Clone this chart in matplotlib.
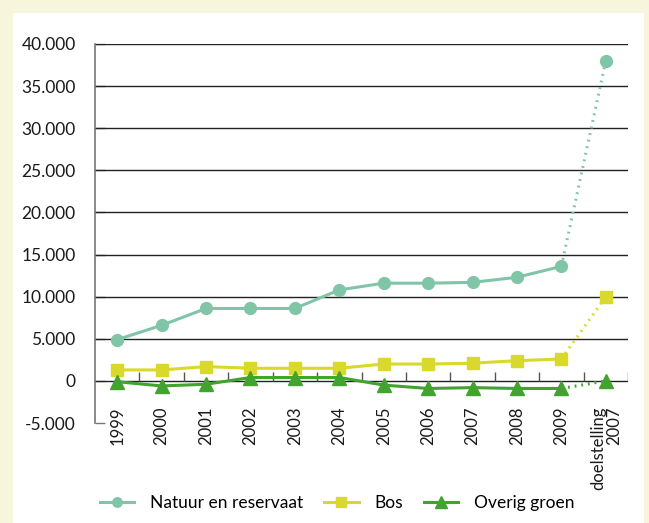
import matplotlib.pyplot as plt
import numpy as np
from matplotlib.patches import Rectangle

categories = ["1999", "2000", "2001", "2002", "2003", "2004", "2005",
              "2006", "2007", "2008", "2009", "doelstelling\n2007"]
natuur = [4900, 6600, 8600, 8600, 8600, 10800, 11600, 11600, 11700, 12300, 13600, 38000]
bos = [1300, 1300, 1700, 1500, 1500, 1500, 2000, 2000, 2100, 2400, 2600, 10000]
overig = [-100, -600, -400, 400, 400, 400, -500, -900, -800, -900, -900, 0]
y_ticks = [-5000, 0, 5000, 10000, 15000, 20000, 25000, 30000, 35000, 40000]
y_labels = ["-5.000", "0", "5.000", "10.000", "15.000", "20.000",
            "25.000", "30.000", "35.000", "40.000"]

plt.rcParams['font.family'] = ['Lato', 'DejaVu Sans']

fig = plt.figure(figsize=(6.49, 5.23), dpi=100)
fig.patch.set_facecolor('#f7f6dc')
fig.patches.append(Rectangle((13 / 649, 0), (644 - 13) / 649, (523 - 13) / 523,
                             transform=fig.transFigure, facecolor='white',
                             edgecolor='none', zorder=-5))

ax = fig.add_axes([95 / 649, 100 / 523, 533 / 649, 379 / 523])
ax.set_facecolor('none')
ax.set_zorder(2)

x = np.arange(len(categories))
series = [
    (natuur, '#80c5a7', 'o', 8.5, "Natuur en reservaat"),
    (bos, '#d8d92b', 's', 8.5, "Bos"),
    (overig, '#42a42f', '^', 10, "Overig groen"),
]
handles = []
for vals, color, marker, ms, label in series:
    ax.plot(x[:-1], vals[:-1], color=color, lw=2.2, marker=marker, ms=ms,
            mec=color, zorder=4)
    ax.plot(x[-2:], vals[-2:], color=color, lw=2.2, ls=(0, (0.6, 1.6)),
            marker=None, zorder=4)
    ax.plot(x[-1:], vals[-1:], color=color, ls='none', marker=marker, ms=ms,
            mec=color, zorder=5)
    handles.append(plt.Line2D([], [], color=color, lw=2.2, marker=marker,
                              ms=ms * 0.8, mec=color, label=label))

ax.set_xlim(-0.5, len(categories) - 0.5)
ax.set_ylim(-5000, 40000)

# horizontal gridlines
for yv in y_ticks[1:]:
    ax.axhline(yv, color='#222222', lw=1.0, zorder=2)
# category boundary ticks on the zero line
ax.vlines(np.arange(len(categories)) + 0.5, 0, 1000, color='#555555', lw=1.0, zorder=2)

ax.set_yticks(y_ticks)
ax.set_yticklabels(y_labels)
ax.tick_params(axis='y', direction='in', length=7, width=1, color='#777777',
               labelsize=12.5, pad=14, labelcolor='#1a1a1a')
ax.set_xticks(x)
ax.set_xticklabels(categories, rotation=90, va='top', ha='center',
                   linespacing=1.0, multialignment='right')
ax.tick_params(axis='x', length=0, labelsize=12, pad=-12, labelcolor='#1a1a1a')

for s in ['top', 'right', 'bottom']:
    ax.spines[s].set_visible(False)
ax.spines['left'].set_color('#777777')
ax.spines['left'].set_linewidth(1.2)

fig.legend(handles=handles, loc='center', bbox_to_anchor=(337 / 649, 1 - 503 / 523),
           ncol=3, frameon=False, fontsize=12.5, handlelength=2.0,
           columnspacing=1.2, handletextpad=0.9)

fig.savefig('out.png', dpi=100, facecolor=fig.get_facecolor())
